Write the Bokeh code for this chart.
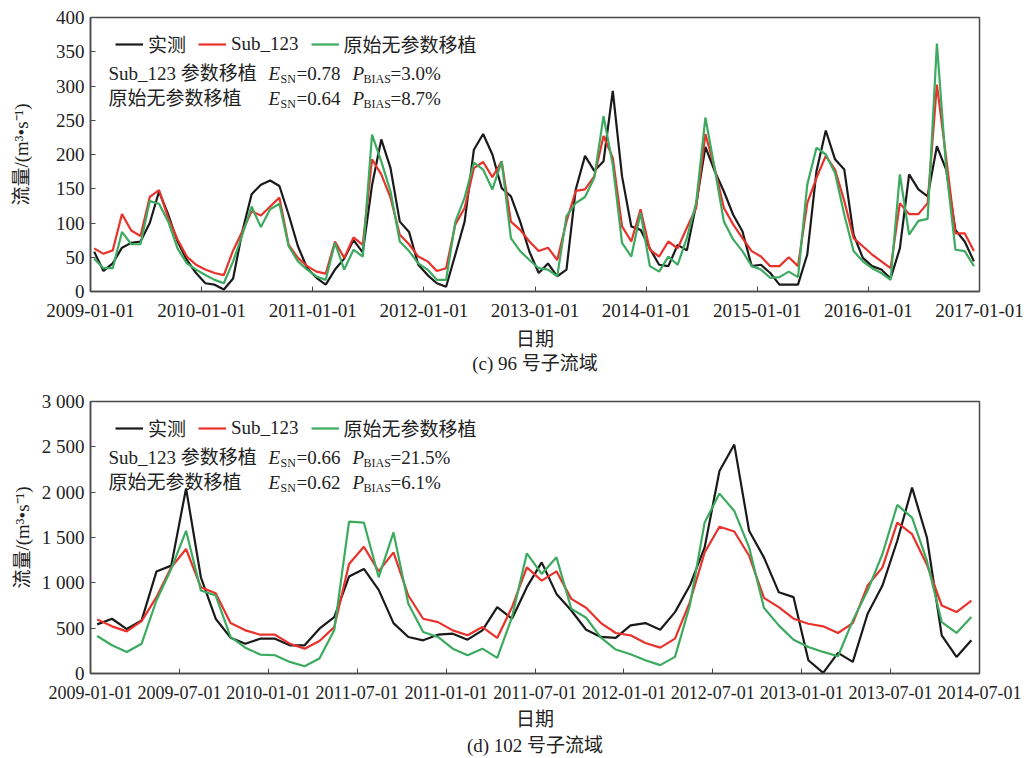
from bokeh.plotting import figure
from bokeh.models import Range1d, FixedTicker, Legend, LegendItem, Label, Title
from bokeh.layouts import column
from bokeh.embed import file_html
from bokeh.resources import INLINE

# ---------------- data: (c) 96 号子流域, monthly 2009-01 .. 2016-12 ----------------
c_obs = [58, 30, 41, 64, 71, 73, 100, 146, 112, 73, 46, 27,
         12, 10, 3, 19, 88, 142, 156, 162, 154, 112, 66, 34,
         20, 10, 32, 48, 75, 57, 155, 222, 180, 102, 87, 39,
         24, 12, 7, 54, 102, 207, 230, 200, 151, 139, 102, 58,
         27, 41, 22, 32, 149, 198, 176, 190, 293, 168, 95, 90,
         63, 39, 37, 68, 60, 127, 211, 176, 146, 112, 88, 37,
         39, 27, 10, 10, 10, 54, 176, 235, 193, 178, 83, 49,
         37, 32, 19, 63, 171, 149, 139, 212, 178, 90, 73, 44]
c_sub = [63, 55, 60, 113, 89, 81, 138, 148, 107, 76, 51, 39,
         32, 27, 24, 60, 88, 117, 111, 124, 137, 68, 49, 37,
         29, 26, 73, 49, 79, 68, 193, 171, 137, 83, 69, 51,
         44, 30, 34, 98, 122, 180, 189, 167, 190, 102, 90, 73,
         59, 64, 46, 102, 147, 149, 168, 227, 195, 95, 73, 120,
         61, 51, 73, 63, 93, 122, 230, 180, 122, 98, 78, 59,
         51, 37, 37, 50, 37, 129, 166, 198, 178, 132, 78, 66,
         54, 44, 34, 129, 113, 113, 129, 302, 195, 85, 85, 59]
c_raw = [48, 34, 34, 87, 69, 69, 132, 128, 102, 63, 41, 32,
         24, 17, 12, 44, 83, 124, 94, 120, 128, 66, 44, 32,
         22, 17, 71, 32, 61, 51, 229, 190, 146, 73, 59, 41,
         32, 17, 17, 102, 137, 188, 178, 149, 190, 78, 59, 46,
         34, 32, 22, 110, 129, 138, 166, 256, 185, 71, 51, 115,
         37, 29, 51, 39, 78, 129, 254, 180, 102, 76, 59, 37,
         32, 20, 21, 29, 21, 156, 210, 200, 173, 112, 59, 44,
         34, 27, 17, 171, 83, 103, 106, 362, 180, 61, 59, 37]
c_ticks = [0, 12, 24, 36, 48, 60, 72, 84, 96]
c_tick_labels = ["2009-01-01", "2010-01-01", "2011-01-01", "2012-01-01", "2013-01-01",
                 "2014-01-01", "2015-01-01", "2016-01-01", "2017-01-01"]
c_yticks = [0, 50, 100, 150, 200, 250, 300, 350, 400]
c_stats = [("0.78", "3.0%"), ("0.64", "8.7%")]

# ---------------- data: (d) 102 号子流域, 60 monthly values ----------------
d_obs = [542, 604, 490, 586, 1124, 1190, 2042, 1061, 604, 395,
         329, 384, 384, 311, 311, 494, 622, 1069, 1153, 922,
         556, 403, 366, 428, 439, 373, 476, 732, 604, 952,
         1226, 878, 695, 483, 403, 392, 531, 556, 483, 677,
         970, 1391, 2233, 2525, 1574, 1281, 897, 842, 146, 7,
         227, 128, 659, 970, 1464, 2050, 1500, 421, 183, 366]
d_sub = [597, 520, 465, 578, 842, 1171, 1373, 952, 886, 556,
         476, 428, 428, 329, 274, 359, 512, 1208, 1398, 1127,
         1336, 860, 604, 567, 476, 421, 512, 392, 732, 1171,
         1025, 1127, 823, 725, 556, 447, 421, 337, 285, 384,
         787, 1336, 1618, 1566, 1299, 834, 732, 604, 549, 520,
         447, 556, 970, 1171, 1665, 1537, 1200, 750, 677, 805]
d_raw = [414, 311, 238, 329, 805, 1153, 1574, 915, 860, 403,
         285, 209, 201, 128, 80, 165, 476, 1676, 1665, 1061,
         1556, 769, 457, 403, 274, 201, 274, 172, 622, 1325,
         1098, 1281, 714, 615, 395, 264, 212, 146, 92, 183,
         750, 1665, 1984, 1793, 1391, 725, 531, 373, 293, 238,
         190, 586, 915, 1318, 1859, 1720, 1244, 567, 447, 622]
d_ticks = [0, 6, 12, 18, 24, 30, 36, 42, 48, 54, 60]
d_tick_labels = ["2009-01-01", "2009-07-01", "2010-01-01", "2011-07-01", "2011-01-01",
                 "2011-07-01", "2012-01-01", "2012-07-01", "2013-01-01", "2013-07-01",
                 "2014-07-01"]
d_yticks = [0, 500, 1000, 1500, 2000, 2500, 3000]
d_ytick_labels = ["0", "500", "1 000", "1 500", "2 000", "2 500", "3 000"]
d_stats = [("0.66", "21.5%"), ("0.62", "6.1%")]

series_names = ["实测", "Sub_123", "原始无参数移植"]
series_colors = ["#1a1a1a", "#e8322c", "#3caa5f"]

FONT = "Liberation Serif, Noto Sans CJK SC"
AX = "#4a4a4a"


def make_chart(obs, sub, raw, xticks, xlabels, yticks, ylabels, ymax, stats, caption,
               height, border_top, border_bottom, xfont, ylab_standoff, x_offset,
               xlab_standoff, title_standoff):
    n = len(obs)
    xs = [i + x_offset for i in range(n)]
    p = figure(width=1024, height=height, output_backend="svg", toolbar_location=None,
               x_range=Range1d(xticks[0], xticks[-1]), y_range=Range1d(0, ymax),
               min_border_left=90, min_border_right=45,
               min_border_top=border_top, min_border_bottom=border_bottom)
    p.xgrid.visible = False
    p.ygrid.visible = False
    p.outline_line_color = AX
    p.outline_line_width = 1.5
    p.background_fill_color = "white"
    p.border_fill_color = "white"

    rends = []
    for vals, col in zip([obs, sub, raw], series_colors):
        r = p.line(xs, vals, line_color=col, line_width=2.2)
        rends.append(r)

    xa = p.xaxis[0]
    xa.ticker = FixedTicker(ticks=xticks)
    xa.major_label_overrides = {t: l for t, l in zip(xticks, xlabels)}
    xa.major_tick_in = 5
    xa.major_tick_out = 0
    xa.minor_tick_line_color = None
    xa.axis_line_color = AX
    xa.axis_line_width = 1.5
    xa.major_tick_line_color = AX
    xa.major_label_text_font = FONT
    xa.major_label_text_font_size = xfont
    xa.major_label_text_color = "#222222"
    xa.major_label_standoff = 12
    xa.axis_label = "日期"
    xa.axis_label_text_font = FONT
    xa.axis_label_text_font_size = "19px"
    xa.axis_label_text_font_style = "normal"
    xa.axis_label_text_color = "#222222"
    xa.axis_label_standoff = xlab_standoff

    ya = p.yaxis[0]
    ya.ticker = FixedTicker(ticks=yticks)
    ya.major_label_overrides = {t: l for t, l in zip(yticks, ylabels)}
    ya.major_tick_in = 5
    ya.major_tick_out = 0
    ya.minor_tick_line_color = None
    ya.axis_line_color = AX
    ya.axis_line_width = 1.5
    ya.major_tick_line_color = AX
    ya.major_label_text_font = FONT
    ya.major_label_text_font_size = "19px"
    ya.major_label_text_color = "#222222"
    ya.major_label_standoff = 6
    ya.axis_label = "流量/(m³•s⁻¹)"
    ya.axis_label_text_font = FONT
    ya.axis_label_text_font_size = "19px"
    ya.axis_label_text_font_style = "normal"
    ya.axis_label_text_color = "#222222"
    ya.axis_label_standoff = ylab_standoff

    frame_h = height - border_top - border_bottom
    legend = Legend(items=[LegendItem(label=nm, renderers=[r]) for nm, r in zip(series_names, rends)],
                    orientation="horizontal", location=(25, frame_h - 40),
                    border_line_color=None, background_fill_alpha=0, padding=0, margin=0,
                    spacing=12, glyph_width=28, glyph_height=20, label_height=20,
                    label_standoff=5, label_text_font=FONT, label_text_font_size="19px",
                    label_text_color="#222222")
    p.add_layout(legend)

    # statistics annotation (two lines with italic symbols and subscripts)
    heads = ["Sub_123 参数移植", "原始无参数移植"]
    for k, (head, (esn, pb)) in enumerate(zip(heads, stats)):
        yc = frame_h - 56 - 25 * k
        common = dict(x_units="screen", y_units="screen", text_baseline="middle",
                      text_font=FONT, text_color="#222222")
        p.add_layout(Label(x=18, y=yc, text=head, text_font_size="19px", **common))
        p.add_layout(Label(x=178, y=yc, text="E", text_font_size="19px", text_font_style="italic", **common))
        p.add_layout(Label(x=190, y=yc - 5, text="SN", text_font_size="12px", **common))
        p.add_layout(Label(x=206, y=yc, text="=" + esn, text_font_size="19px", **common))
        p.add_layout(Label(x=262, y=yc, text="P", text_font_size="19px", text_font_style="italic", **common))
        p.add_layout(Label(x=273, y=yc - 5, text="BIAS", text_font_size="12px", **common))
        p.add_layout(Label(x=300, y=yc, text="=" + pb, text_font_size="19px", **common))

    t = Title(text=caption, align="center", text_font=FONT, text_font_size="19px",
              text_font_style="normal", text_color="#222222", standoff=title_standoff)
    p.add_layout(t, "below")
    return p


p1 = make_chart(c_obs, c_sub, c_raw, c_ticks, c_tick_labels, c_yticks, [str(v) for v in c_yticks],
                400, c_stats, "(c) 96 号子流域", 380, 17, 89, "19px", 21, 0.4, 9, -3)
p2 = make_chart(d_obs, d_sub, d_raw, d_ticks, d_tick_labels, d_yticks, d_ytick_labels,
                3000, d_stats, "(d) 102 号子流域", 378, 21, 85, "18px", 6, 0.45, 7, 0)

layout = column(p1, p2, spacing=0)
open("out.html", "w").write(file_html(layout, INLINE))
